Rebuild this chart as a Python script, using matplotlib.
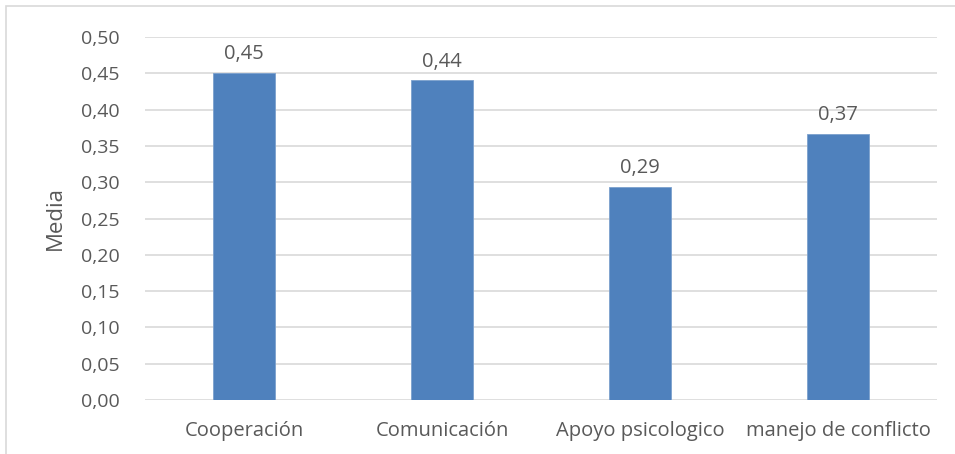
import matplotlib.pyplot as plt
from matplotlib.patches import Rectangle
from matplotlib.ticker import FuncFormatter

# Medias por dimensión
categorias = ['Cooperación', 'Comunicación', 'Apoyo psicologico', 'manejo de conflicto']
medias = [0.451, 0.441, 0.294, 0.367]
ticks_y = [0.00, 0.05, 0.10, 0.15, 0.20, 0.25, 0.30, 0.35, 0.40, 0.45, 0.50]

plt.rcParams['font.family'] = ['Open Sans', 'DejaVu Sans']
gris = '#595959'

fig = plt.figure(figsize=(9.55, 4.54), dpi=100)
ax = fig.add_axes([145 / 955, 1 - 400 / 454, (937 - 145) / 955, (400 - 37) / 454])

# marco del gráfico
fig.add_artist(Rectangle((6 / 955, -0.1), 1.2, 1 - 6 / 454 + 0.1, transform=fig.transFigure,
                         fill=False, edgecolor='#D9D9D9', linewidth=1.2))

x = range(len(categorias))
barras = ax.bar(x, medias, width=0.31, color='#4F81BD', edgecolor='#7BA0CD', linewidth=0.6, zorder=3)
for b, v in zip(barras, medias):
    ax.annotate(('%.2f' % v).replace('.', ','), (b.get_x() + b.get_width() / 2, v),
                xytext=(0, 6), textcoords='offset points', ha='center', va='bottom',
                fontsize=14.5, color=gris)

ax.set_xlim(-0.5, len(categorias) - 0.5)
ax.set_ylim(0, 0.5)
ax.set_yticks(ticks_y)
ax.yaxis.set_major_formatter(FuncFormatter(lambda v, p: ('%.2f' % v).replace('.', ',')))
ax.set_xticks(list(x))
ax.set_xticklabels(categorias)
ax.tick_params(axis='both', length=0, colors=gris)
ax.tick_params(axis='x', pad=15, labelsize=14.5)
ax.tick_params(axis='y', pad=18, labelsize=14)
ax.grid(axis='y', color='#D9D9D9', linewidth=1.2, zorder=0)
for s in ax.spines.values():
    s.set_visible(False)
ax.set_ylabel('Media', fontsize=16, color=gris, labelpad=11)

fig.savefig('out.png', dpi=100)
